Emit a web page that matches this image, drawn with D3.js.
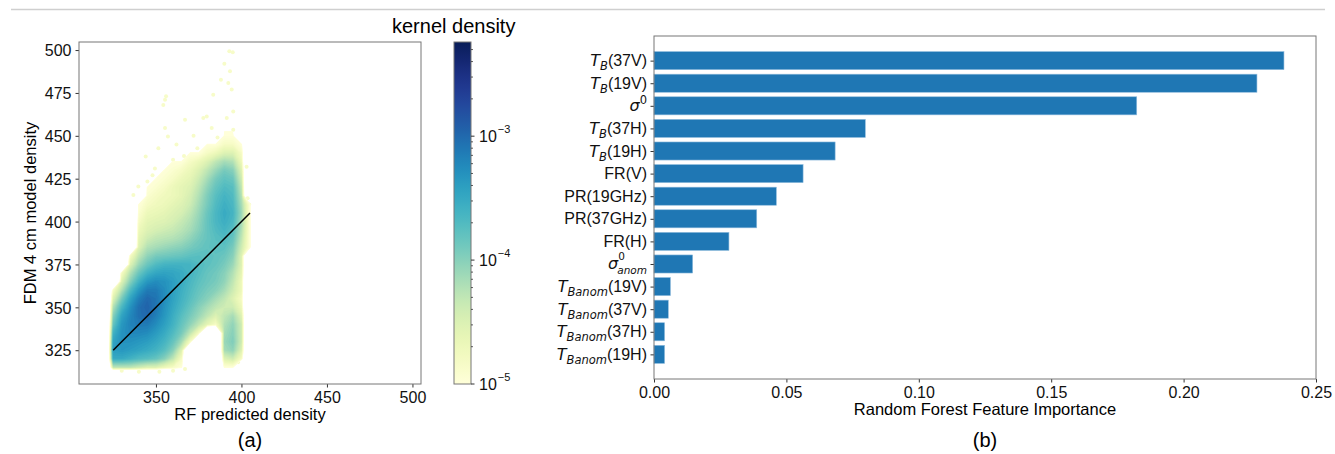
<!DOCTYPE html>
<html>
<head>
<meta charset="utf-8">
<title>RF density and feature importance</title>
<script src="https://d3js.org/d3.v7.min.js"></script>
<style>
html, body {
  margin: 0;
  padding: 0;
  background: #ffffff;
}

svg {
  display: block;
  font-family: "Liberation Sans", Arial, sans-serif;
}

.tick text {
  font-size: 16px;
  fill: #111111;
}

.tick line {
  stroke: #333333;
}

.frame {
  fill: none;
  stroke: #777777;
  stroke-width: 1px;
}

.math {
  font-family: "DejaVu Sans", sans-serif;
}
</style>
</head>
<body>
<svg id="fig" width="1335" height="454"></svg>
<script>
// ---------------- panel (a): density of RF prediction vs FDM ----------------

// grid of kernel density values, in units of 1e-5
var densityCols = [320, 325, 330, 335, 340, 345, 350, 355, 360, 365, 370, 375, 380, 385, 390, 395, 400, 405, 410];
var densityRows = [450, 445, 440, 435, 430, 425, 420, 415, 410, 405, 400, 395, 390, 385, 380, 375, 370, 365, 360, 355, 350, 345, 340, 335, 330, 325, 320, 315, 310];
var densityGrid = [
  [0, 0, 0, 0, 0, 0, 0, 0, 0, 0, 0, 0, 0, 0, 1, 1, 0, 0, 0],
  [0, 0, 0, 0, 0, 0, 0, 0, 0, 0, 0, 0, 1, 1, 1.5, 1.5, 1, 0, 0],
  [0, 0, 0, 0, 0, 0, 0, 0, 0, 0, 1, 1, 1.5, 2, 3, 3, 1.5, 0, 0],
  [0, 0, 0, 0, 0, 0, 0, 0, 1, 1, 1.5, 2, 3, 5, 7, 6, 2, 0, 0],
  [0, 0, 0, 0, 0, 0, 0, 1, 1.2, 1.5, 2, 3, 5, 8, 12, 10, 3, 0, 0],
  [0, 0, 0, 0, 0, 0, 1, 1.2, 1.5, 2, 2.5, 4, 7, 12, 16, 14, 4, 0, 0],
  [0, 0, 0, 0, 0, 1, 1.2, 1.5, 2, 2.5, 3, 5, 9, 15, 20, 18, 5, 0, 0],
  [0, 0, 0, 0, 0, 1.2, 1.5, 1.8, 2, 2.5, 3.5, 6, 11, 18, 24, 20, 6, 0, 0],
  [0, 0, 0, 0, 1, 1.5, 1.8, 2, 2.5, 3, 4, 7, 12, 20, 27, 22, 7, 1, 0],
  [0, 0, 0, 0, 1.2, 2, 2.2, 2.5, 3, 3.5, 5, 8, 14, 22, 30, 24, 8, 1, 0],
  [0, 0, 0, 0, 1.5, 2.5, 2.8, 3, 3.5, 4.5, 6, 9, 15, 22, 28, 22, 7, 1, 0],
  [0, 0, 0, 0, 2, 3, 3.5, 4, 4.5, 5.5, 7, 10, 15, 20, 24, 18, 6, 1, 0],
  [0, 0, 0, 0, 2.5, 4, 5, 5.5, 6, 7, 9, 12, 15, 18, 20, 15, 5, 1, 0],
  [0, 0, 0, 0, 3, 6, 7, 8, 9, 10, 12, 14, 16, 17, 17, 12, 4, 1, 0],
  [0, 0, 0, 1.5, 5, 9, 12, 13, 14, 15, 17, 18, 17, 16, 14, 10, 3, 0, 0],
  [0, 0, 0, 3, 8, 14, 20, 24, 25, 25, 24, 20, 17, 15, 12, 8, 3, 0, 0],
  [0, 0, 1.5, 6, 14, 25, 33, 36, 34, 30, 24, 19, 15, 13, 10, 6, 2.5, 0, 0],
  [0, 0, 3, 10, 25, 45, 55, 50, 40, 30, 22, 17, 14, 12, 9, 5, 2, 0, 0],
  [0, 1.5, 6, 20, 45, 75, 75, 55, 38, 27, 20, 15, 12, 10, 7, 4, 2, 0, 0],
  [0, 3, 12, 35, 70, 100, 85, 55, 36, 25, 18, 13, 10, 7, 5, 3, 1.5, 0, 0],
  [0, 6, 22, 50, 90, 110, 80, 50, 32, 22, 15, 10, 7, 5, 4, 4, 2, 0, 0],
  [0, 10, 35, 60, 90, 100, 70, 45, 28, 18, 12, 8, 5, 3, 5, 7, 3, 0, 0],
  [0, 15, 45, 65, 75, 75, 55, 38, 25, 15, 9, 5, 2.5, 1.5, 6, 9, 4, 0, 0],
  [0, 25, 50, 60, 60, 55, 42, 30, 20, 12, 5, 1.5, 0, 0, 7, 10, 4, 0, 0],
  [0, 35, 50, 50, 45, 40, 32, 24, 15, 7, 1.5, 0, 0, 0, 8, 11, 4, 0, 0],
  [0, 40, 45, 40, 35, 30, 25, 18, 10, 3, 0, 0, 0, 0, 7, 9, 3, 0, 0],
  [0, 30, 30, 25, 20, 18, 15, 10, 5, 1.5, 0, 0, 0, 0, 3, 4, 1.5, 0, 0],
  [0, 5, 5, 5, 4, 3, 3, 2, 1.5, 1, 0, 0, 0, 0, 1, 1, 0, 0, 0],
  [0, 0, 0, 0, 0, 0, 0, 0, 0, 0, 0, 0, 0, 0, 0, 0, 0, 0, 0]
];

// sparse outlying points around the cloud
var outlierX = [392.9, 394.9, 390.0, 393.3, 388.0, 392.3, 394.3, 383.5, 355.9, 355.3, 354.3, 395.2, 391.4, 355.3, 367.0, 377.7, 382.6, 395.2, 357.0, 351.4, 349.4, 339.7, 345.0, 366.4, 374.2, 336.8, 379.7, 403.0, 403.6, 404.5, 330.0, 340.0, 352.0, 360.0, 367.0, 398.0, 393.0, 362.0, 372.0, 386.0, 344.0, 348.0, 360.0];
var outlierY = [499.3, 498.7, 492.0, 487.6, 482.7, 480.8, 477.0, 474.0, 473.0, 471.0, 468.0, 464.2, 460.4, 454.5, 459.4, 460.4, 454.5, 453.5, 449.6, 442.8, 431.0, 420.4, 423.3, 438.3, 442.8, 415.5, 461.3, 432.0, 413.6, 410.0, 313.0, 312.5, 312.5, 313.0, 314.0, 318.0, 318.0, 445.0, 450.0, 449.0, 438.0, 427.0, 436.0];

// one-to-one line
var fitX = [325, 405];
var fitY = [325, 405];

var scatterTicks = [325, 350, 375, 400, 425, 450, 475, 500];
var scatterXTicks = [350, 400, 450, 500];
var colorbarTicks = [1e-5, 1e-4, 1e-3];
var colorbarMax = Math.pow(10, -2.24);

// ---------------- panel (b): feature importance ----------------
var featureNames = ["T_B(37V)", "T_B(19V)", "σ^0", "T_B(37H)", "T_B(19H)", "FR(V)", "PR(19GHz)", "PR(37GHz)",
  "FR(H)", "σ^0_anom", "T_Banom(19V)", "T_Banom(37V)", "T_Banom(37H)", "T_Banom(19H)"];
var featureImportance = [0.2379, 0.2277, 0.1823, 0.0798, 0.0684, 0.0563, 0.0462, 0.0388, 0.0283, 0.0146, 0.0062, 0.0054, 0.0040, 0.0040];
var importanceTicks = [0, 0.05, 0.10, 0.15, 0.20, 0.25];

var svg = d3.select("#fig");

svg.append("line")
  .attr("x1", 11).attr("x2", 1325)
  .attr("y1", 9.5).attr("y2", 9.5)
  .attr("stroke", "#cfcfcf")
  .attr("stroke-width", 1.5);

/* ---------- panel (a) ---------- */
var xL = d3.scaleLinear().domain([305, 505]).range([79, 421]);
var yL = d3.scaleLinear().domain([305.3, 504.7]).range([384, 42]);
var color = d3.scaleSequentialLog(d3.interpolateYlGnBu).domain([1e-5, colorbarMax]).clamp(true);

svg.append("clipPath").attr("id", "clipA")
  .append("rect")
  .attr("x", xL.range()[0]).attr("y", yL.range()[1])
  .attr("width", xL.range()[1] - xL.range()[0])
  .attr("height", yL.range()[0] - yL.range()[1]);

var gA = svg.append("g").attr("clip-path", "url(#clipA)");

var nCols = densityCols.length;
var nRows = densityRows.length;
var step = densityCols[1] - densityCols[0];

// log10 of density (in 1e-5 units); empty cells pushed far below
var logValues = [];
densityGrid.forEach(function(row) {
  row.forEach(function(k) { logValues.push(k > 0 ? Math.log10(k) : -2); });
});

var gridToPixel = d3.geoTransform({
  point: function(u, v) {
    this.stream.point(
      xL(densityCols[0] + (u - 0.5) * step),
      yL(densityRows[0] - (v - 0.5) * step)
    );
  }
});
var gridPath = d3.geoPath(gridToPixel);

var levels = d3.range(-0.15, 2.3, 0.04);
var bands = d3.contours().size([nCols, nRows]).thresholds(levels)(logValues);

// outliers first, so the cloud sits above them
gA.selectAll("circle.outlier")
  .data(d3.range(outlierX.length))
  .enter().append("circle")
    .attr("class", "outlier")
    .attr("cx", function(i) { return xL(outlierX[i]); })
    .attr("cy", function(i) { return yL(outlierY[i]); })
    .attr("r", 2)
    .attr("fill", color(1.4e-5));

gA.selectAll("path.band")
  .data(bands)
  .enter().append("path")
    .attr("class", "band")
    .attr("d", gridPath)
    .attr("fill", function(d) { return color(Math.pow(10, d.value + 0.02) * 1e-5); });

gA.append("line")
  .attr("x1", xL(fitX[0])).attr("y1", yL(fitY[0]))
  .attr("x2", xL(fitX[1])).attr("y2", yL(fitY[1]))
  .attr("stroke", "#000000")
  .attr("stroke-width", 1.5);

svg.append("g")
  .attr("transform", "translate(0," + yL.range()[0] + ")")
  .call(d3.axisBottom(xL).tickValues(scatterXTicks).tickSize(3.5).tickPadding(4).tickSizeOuter(0))
  .call(function(g) { g.select(".domain").remove(); });

svg.append("g")
  .attr("transform", "translate(" + xL.range()[0] + ",0)")
  .call(d3.axisLeft(yL).tickValues(scatterTicks).tickSize(3.5).tickPadding(4).tickSizeOuter(0))
  .call(function(g) { g.select(".domain").remove(); })
  .selectAll(".tick text").attr("dy", "0.36em");

svg.append("rect")
  .attr("class", "frame")
  .attr("x", xL.range()[0]).attr("y", yL.range()[1])
  .attr("width", xL.range()[1] - xL.range()[0])
  .attr("height", yL.range()[0] - yL.range()[1]);

svg.append("text")
  .attr("x", (xL.range()[0] + xL.range()[1]) / 2)
  .attr("y", 420)
  .attr("text-anchor", "middle")
  .attr("font-size", 16.5)
  .text("RF predicted density");

svg.append("text")
  .attr("transform", "translate(36," + (yL.range()[0] + yL.range()[1]) / 2 + ") rotate(-90)")
  .attr("text-anchor", "middle")
  .attr("font-size", 16.5)
  .text("FDM 4 cm model density");

svg.append("text")
  .attr("x", (xL.range()[0] + xL.range()[1]) / 2)
  .attr("y", 447)
  .attr("text-anchor", "middle")
  .attr("font-size", 20)
  .text("(a)");

// colorbar
var cbX = 454, cbW = 17;
var cbY = d3.scaleLog().domain([1e-5, colorbarMax]).range([384, 42]);

var grad = svg.append("defs").append("linearGradient")
  .attr("id", "cbGrad")
  .attr("x1", 0).attr("y1", 1).attr("x2", 0).attr("y2", 0);
grad.selectAll("stop")
  .data(d3.range(0, 1.0001, 0.02))
  .enter().append("stop")
    .attr("offset", function(t) { return t; })
    .attr("stop-color", function(t) { return d3.interpolateYlGnBu(t); });

svg.append("rect")
  .attr("x", cbX).attr("y", cbY.range()[1])
  .attr("width", cbW).attr("height", cbY.range()[0] - cbY.range()[1])
  .attr("fill", "url(#cbGrad)");

svg.append("rect")
  .attr("class", "frame")
  .attr("x", cbX).attr("y", cbY.range()[1])
  .attr("width", cbW).attr("height", cbY.range()[0] - cbY.range()[1]);

var minorTicks = [];
colorbarTicks.forEach(function(base) {
  for (var m = 2; m <= 9; m++) {
    if (m * base <= colorbarMax) minorTicks.push(m * base);
  }
});

svg.selectAll("line.cbminor")
  .data(minorTicks)
  .enter().append("line")
    .attr("class", "cbminor")
    .attr("x1", cbX + cbW).attr("x2", cbX + cbW + 2)
    .attr("y1", function(d) { return cbY(d); })
    .attr("y2", function(d) { return cbY(d); })
    .attr("stroke", "#333333")
    .attr("stroke-width", 0.8);

svg.selectAll("line.cbmajor")
  .data(colorbarTicks)
  .enter().append("line")
    .attr("class", "cbmajor")
    .attr("x1", cbX + cbW).attr("x2", cbX + cbW + 3.5)
    .attr("y1", function(d) { return cbY(d); })
    .attr("y2", function(d) { return cbY(d); })
    .attr("stroke", "#333333");

var cbLabels = svg.selectAll("text.cblabel")
  .data(colorbarTicks)
  .enter().append("text")
    .attr("class", "cblabel")
    .attr("x", cbX + cbW + 8)
    .attr("y", function(d) { return cbY(d) + 6; })
    .attr("font-size", 16)
    .attr("fill", "#111111");
cbLabels.append("tspan").text("10");
cbLabels.append("tspan")
  .attr("dy", -9)
  .attr("dx", 1)
  .attr("font-size", 11)
  .text(function(d) { return "\u2212" + Math.round(-Math.log10(d)); });

svg.append("text")
  .attr("x", 392)
  .attr("y", 33)
  .attr("font-size", 20)
  .attr("fill", "#000000")
  .text("kernel density");

/* ---------- panel (b) ---------- */
var xB = d3.scaleLinear().domain([0, 0.25]).range([654, 1316]);
var yB = d3.scaleLinear().domain([-1.09, 14.09]).range([36, 379]);
var barH = yB(0.4) - yB(-0.4);

svg.selectAll("rect.bar")
  .data(featureImportance)
  .enter().append("rect")
    .attr("class", "bar")
    .attr("x", xB(0))
    .attr("y", function(d, i) { return yB(i - 0.4); })
    .attr("width", function(d) { return xB(d) - xB(0); })
    .attr("height", barH)
    .attr("fill", "#1f77b4")
    .attr("stroke", "#8fbbdd")
    .attr("stroke-width", 0.6);

svg.append("g")
  .attr("transform", "translate(0," + yB.range()[1] + ")")
  .call(d3.axisBottom(xB).tickValues(importanceTicks).tickFormat(d3.format(".2f")).tickSize(3.5).tickPadding(4).tickSizeOuter(0))
  .call(function(g) { g.select(".domain").remove(); });

svg.append("g")
  .attr("transform", "translate(" + xB.range()[0] + ",0)")
  .call(d3.axisLeft(yB).tickValues(d3.range(featureNames.length)).tickFormat("").tickSize(3.5).tickSizeOuter(0))
  .call(function(g) { g.select(".domain").remove(); });

svg.append("rect")
  .attr("class", "frame")
  .attr("x", xB.range()[0]).attr("y", yB.range()[0])
  .attr("width", xB.range()[1] - xB.range()[0])
  .attr("height", yB.range()[1] - yB.range()[0]);

// feature labels with mathtext-like sub/superscripts
var labelX = xB.range()[0] - 7;
featureNames.forEach(function(name, i) {
  var base = yB(i) + 5.5;
  var t;
  if (name.indexOf("T_") === 0) {
    var open = name.indexOf("(");
    t = svg.append("text")
      .attr("x", labelX).attr("y", base)
      .attr("text-anchor", "end")
      .attr("font-size", 16)
      .attr("fill", "#111111");
    t.append("tspan").attr("class", "math").attr("font-style", "italic").text("T");
    t.append("tspan").attr("class", "math").attr("font-style", "italic")
      .attr("font-size", 11.5).attr("dy", 4).text(name.slice(2, open));
    t.append("tspan").attr("dy", -4).text(name.slice(open));
  } else if (name === "σ^0") {
    t = svg.append("text")
      .attr("x", labelX).attr("y", base)
      .attr("text-anchor", "end")
      .attr("font-size", 16)
      .attr("fill", "#111111");
    t.append("tspan").attr("class", "math").attr("font-style", "italic").text("σ");
    t.append("tspan").attr("class", "math").attr("font-size", 11.5).attr("dy", -7).text("0");
  } else if (name === "σ^0_anom") {
    // stacked super- and subscript
    var sub = svg.append("text")
      .attr("class", "math")
      .attr("x", labelX).attr("y", base + 5)
      .attr("text-anchor", "end")
      .attr("font-size", 10.5)
      .attr("font-style", "italic")
      .attr("fill", "#111111")
      .text("anom");
    var w = sub.node().getComputedTextLength();
    svg.append("text")
      .attr("class", "math")
      .attr("x", labelX - w + 1).attr("y", base - 9)
      .attr("font-size", 10.5)
      .attr("fill", "#111111")
      .text("0");
    svg.append("text")
      .attr("class", "math")
      .attr("x", labelX - w + 1).attr("y", base)
      .attr("text-anchor", "end")
      .attr("font-size", 16)
      .attr("font-style", "italic")
      .attr("fill", "#111111")
      .text("σ");
  } else {
    svg.append("text")
      .attr("x", labelX).attr("y", base)
      .attr("text-anchor", "end")
      .attr("font-size", 16)
      .attr("fill", "#111111")
      .text(name);
  }
});

svg.append("text")
  .attr("x", (xB.range()[0] + xB.range()[1]) / 2)
  .attr("y", 415)
  .attr("text-anchor", "middle")
  .attr("font-size", 16.5)
  .text("Random Forest Feature Importance");

svg.append("text")
  .attr("x", (xB.range()[0] + xB.range()[1]) / 2)
  .attr("y", 447)
  .attr("text-anchor", "middle")
  .attr("font-size", 20)
  .text("(b)");
</script>
</body>
</html>
